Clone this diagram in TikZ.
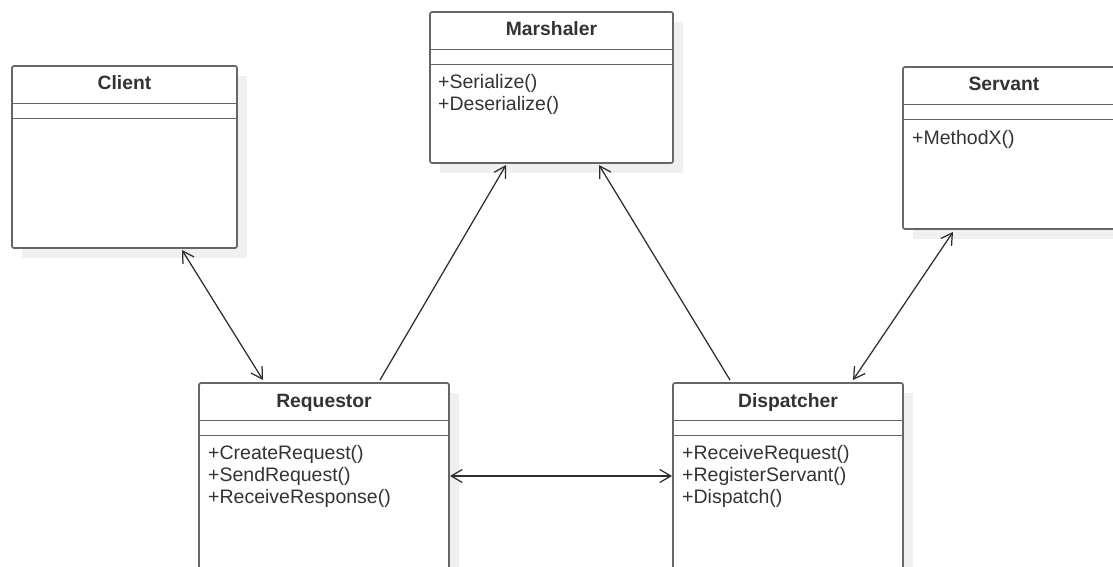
\documentclass[tikz,border=0pt]{standalone}
\usepackage{fontspec}
\setmainfont{Liberation Sans}
\usetikzlibrary{arrows.meta,calc,backgrounds}
\definecolor{boxline}{RGB}{102,102,102}
\definecolor{shadowfill}{RGB}{240,240,240}
\definecolor{inktext}{RGB}{51,51,51}
\definecolor{wire}{RGB}{45,45,45}

\begin{document}
\begin{tikzpicture}[x=1pt,y=-1pt,
  classbox/.style={rectangle, draw=boxline, line width=1.7pt, fill=white,
    rounded corners=2pt, anchor=north west, inner sep=0pt, outer sep=0pt},
  divider/.style={draw=boxline, line width=1.7pt},
  classname/.style={font=\fontsize{19.3}{22}\selectfont\bfseries, text=inktext,
    anchor=base, inner sep=0pt},
  member/.style={font=\fontsize{19.5}{22}\selectfont, text=inktext,
    anchor=base west, inner sep=0pt},
  barb/.tip={Straight Barb[length=11pt,width=13pt]},
  assoc/.style={draw=wire, line width=1.25pt},
  oneway/.style={assoc, -barb},
  twoway/.style={assoc, barb-barb},
  boxshadow/.style={fill=shadowfill}
]
\useasboundingbox (0,0) rectangle (1113,567);

% class frames
\node[classbox, minimum width=225pt, minimum height=182pt] (cl) at (12,66) {};
\node[classbox, minimum width=243pt, minimum height=151pt] (mar) at (430,12) {};
\node[classbox, minimum width=240pt, minimum height=162pt] (srv) at (903,67) {};
\node[classbox, minimum width=250pt, minimum height=260pt] (req) at (199,383) {};
\node[classbox, minimum width=230pt, minimum height=260pt] (dsp) at (673,383) {};

% drop shadows
\begin{scope}[on background layer]
  \foreach \b in {cl,mar,srv,req,dsp}
    \fill[boxshadow] ($(\b.north west)+(10,10)$) rectangle ($(\b.south east)+(10,10)$);
\end{scope}

% compartment dividers
\foreach \b in {cl,mar,srv,req,dsp} {
  \draw[divider] ($(\b.north west)+(0,37.5)$) -- ($(\b.north east)+(0,37.5)$);
  \draw[divider] ($(\b.north west)+(0,52.5)$) -- ($(\b.north east)+(0,52.5)$);
}

% class names
\node[classname] (cl-name)  at ($(cl.north)+(0,24)$) {Client};
\node[classname] (mar-name) at ($(mar.north)+(0,24)$) {Marshaler};
\node[classname] (srv-name) at ($(srv.north west)+(101,24)$) {Servant};
\node[classname] (req-name) at ($(req.north)+(0,24)$) {Requestor};
\node[classname] (dsp-name) at ($(dsp.north)+(0,24)$) {Dispatcher};

% operations
\node[member] (mar-op1) at ($(mar.north west)+(8,77)$) {+Serialize()};
\node[member] (mar-op2) at ($(mar.north west)+(8,99)$) {+Deserialize()};
\node[member] (srv-op1) at ($(srv.north west)+(9,77)$) {+MethodX()};
\node[member] (req-op1) at ($(req.north west)+(9,76)$) {+CreateRequest()};
\node[member] (req-op2) at ($(req.north west)+(9,98)$) {+SendRequest()};
\node[member] (req-op3) at ($(req.north west)+(9,120)$) {+ReceiveResponse()};
\node[member] (dsp-op1) at ($(dsp.north west)+(9,76)$) {+ReceiveRequest()};
\node[member] (dsp-op2) at ($(dsp.north west)+(9,98)$) {+RegisterServant()};
\node[member] (dsp-op3) at ($(dsp.north west)+(9,120)$) {+Dispatch()};

% associations
\draw[twoway] ($(cl.south west)+(170,2)$) -- ($(req.north west)+(64,-3)$);
\draw[oneway] ($(req.north west)+(181,-3)$) -- ($(mar.south west)+(76,2)$);
\draw[oneway] ($(dsp.north west)+(57,-3)$) -- ($(mar.south west)+(169,2)$);
\draw[twoway] ($(srv.south west)+(50,3)$) -- ($(dsp.north west)+(180,-3)$);
\draw[twoway] ($(req.north east)+(1,93)$) -- ($(dsp.north west)+(-1,93)$);
\end{tikzpicture}
\end{document}
